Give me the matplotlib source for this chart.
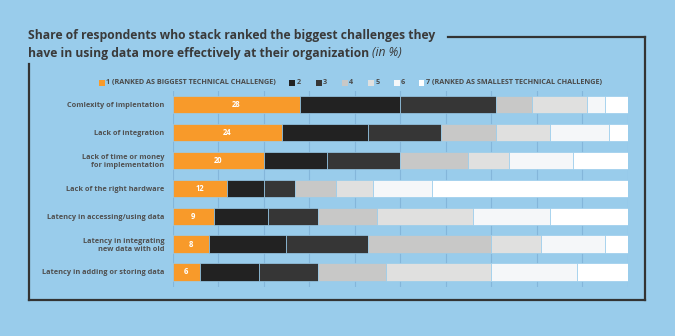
import matplotlib
matplotlib.use("Agg")
import matplotlib.pyplot as plt
from matplotlib.lines import Line2D
import numpy as np

# Stacked ranking shares (percent), rank 1 = biggest challenge ... rank 7 = smallest
categories = [
    "Comlexity of implentation",
    "Lack of integration",
    "Lack of time or money\nfor implementation",
    "Lack of the right hardware",
    "Latency in accessing/using data",
    "Latency in integrating\nnew data with old",
    "Latency in adding or storing data",
]
rank1 = [28, 24, 20, 12, 9, 8, 6]
rank2 = [22, 19, 14, 8, 12, 17, 13]
rank3 = [21, 16, 16, 7, 11, 18, 13]
rank4 = [8, 12, 15, 9, 13, 27, 15]
rank5 = [12, 12, 9, 8, 21, 11, 23]
rank6 = [4, 13, 14, 13, 17, 14, 19]
rank7 = [5, 4, 12, 43, 17, 5, 11]

legend_labels = [
    "1 (RANKED AS BIGGEST TECHNICAL CHALLENGE)", "2", "3", "4", "5", "6",
    "7 (RANKED AS SMALLEST TECHNICAL CHALLENGE)",
]
title_line1 = "Share of respondents who stack ranked the biggest challenges they"
title_line2 = "have in using data more effectively at their organization "
title_unit = "(in %)"

series = [rank1, rank2, rank3, rank4, rank5, rank6, rank7]
colors = ["#F89A2A", "#222222", "#363636", "#C8C8C7", "#E0E0DF", "#F5F7F9", "#FFFFFF"]
bg = "#99CCEB"
grid_c = "#84B6DA"
text_c = "#3A3A3A"

W, H = 675, 336
fig = plt.figure(figsize=(W / 100, H / 100), dpi=100)
fig.patch.set_facecolor(bg)

def fx(px):
    return px / W

def fy(py):
    return 1 - py / H

ax = fig.add_axes([fx(172.7), fy(287), fx(627.5) - fx(172.7), fy(91) - fy(287)])
ax.set_facecolor("none")

y = np.arange(len(categories))
left = np.zeros(len(categories))
for vals, col in zip(series, colors):
    ax.barh(y, vals, left=left, height=0.62, color=col,
            edgecolor=bg, linewidth=0.5, zorder=2)
    left += np.array(vals)

for i, v in enumerate(rank1):
    ax.text(v / 2, i, str(v), ha="center", va="center", color="white",
            fontsize=5.5, fontweight="bold", family="Open Sans", zorder=3)

ax.set_xlim(0, 100)
ax.set_ylim(6.54, -0.49)
ax.set_xticks(np.arange(0, 101, 10))
ax.grid(axis="x", color=grid_c, linewidth=0.8, zorder=0)
ax.tick_params(length=0, labelbottom=False)
ax.set_yticks(y)
ax.set_yticklabels(categories, fontsize=5.3, fontweight="bold",
                   color="#505050", family="Open Sans", linespacing=1.15)
ax.tick_params(axis="y", pad=6)
for s in ax.spines.values():
    s.set_visible(False)

# Legend row
legend_x = [101.7, 292.3, 318.7, 345.3, 371.3, 396.7, 421.7]
for lx, lab, col in zip(legend_x, legend_labels, colors):
    fig.patches.append(plt.Rectangle((fx(lx - 3.2), fy(86)), fx(6), 6 / H,
                                     transform=fig.transFigure, facecolor=col,
                                     edgecolor="none"))
    fig.text(fx(lx + 4), fy(82.7), lab, fontsize=5.2, fontweight="bold",
             color="#4A4A4A", family="Open Sans", va="center", ha="left")

# Title
fig.text(fx(28), fy(36), title_line1, fontsize=8.7, fontweight="bold",
         color=text_c, family="Open Sans", va="center", ha="left")
t2 = fig.text(fx(28), fy(53), title_line2, fontsize=8.7, fontweight="bold",
              color=text_c, family="Open Sans", va="center", ha="left")
fig.canvas.draw()
bb = t2.get_window_extent(renderer=fig.canvas.get_renderer())
fig.text(bb.x1 / W, fy(53), title_unit, fontsize=8.7, style="italic",
         color=text_c, family="Open Sans", va="center", ha="left")

# Frame around the chart
frame_kw = dict(color="#333333", linewidth=1.6, transform=fig.transFigure,
                solid_capstyle="projecting")
fig.lines.append(Line2D([fx(448), fx(645)], [fy(37), fy(37)], **frame_kw))
fig.lines.append(Line2D([fx(645), fx(645)], [fy(37), fy(300)], **frame_kw))
fig.lines.append(Line2D([fx(29), fx(645)], [fy(300), fy(300)], **frame_kw))
fig.lines.append(Line2D([fx(29), fx(29)], [fy(64), fy(300)], **frame_kw))

fig.savefig("out.png", dpi=100, facecolor=bg)
